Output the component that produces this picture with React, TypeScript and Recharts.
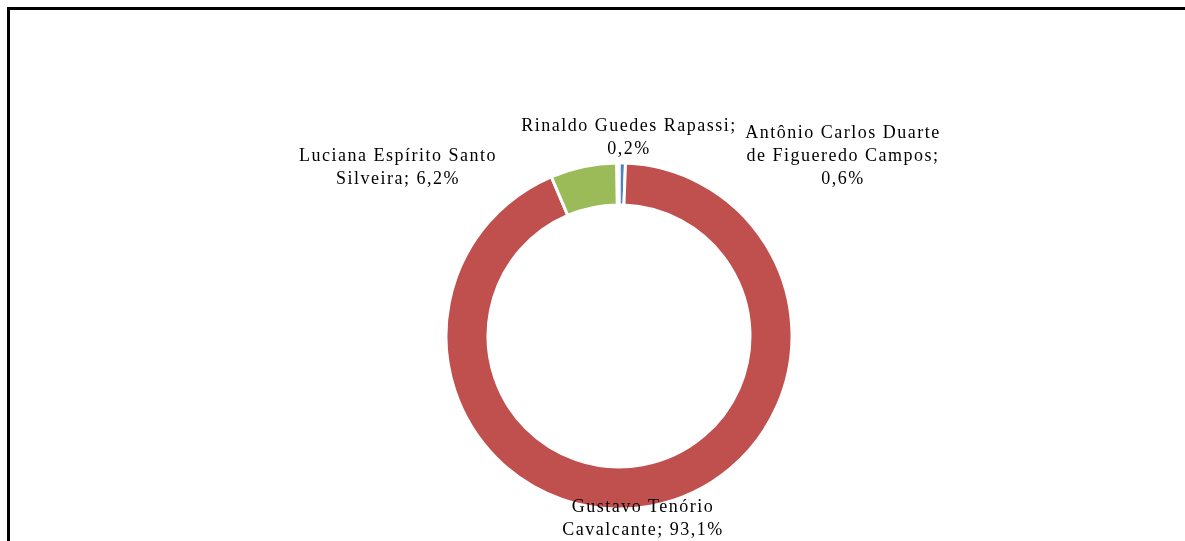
import { PieChart, Pie, Cell } from 'recharts'

// Shares of the total, clockwise from 12 o'clock (same order as Excel drew them)
const names = [
  'Antônio Carlos Duarte de Figueredo Campos',
  'Gustavo Tenório Cavalcante',
  'Luciana Espírito Santo Silveira',
  'Rinaldo Guedes Rapassi',
]
const shares = [0.6, 93.1, 6.2, 0.2]

// how each label wraps (the percentage is appended by formatLabel)
const nameLines = [
  ['Antônio Carlos Duarte', 'de Figueredo Campos;'],
  ['Gustavo Tenório', 'Cavalcante;'],
  ['Luciana Espírito Santo', 'Silveira;'],
  ['Rinaldo Guedes Rapassi;'],
]
const pctOnOwnLine = [true, false, false, true]

const colors = ['#4F81BD', '#C0504D', '#9BBB59', '#8064A2']

// label block centres, relative to the pie centre
const labelOffsets = [
  { dx: 224, dy: -181 },
  { dx: 24, dy: 181 },
  { dx: -221, dy: -170 },
  { dx: 10, dy: -200 },
]

const data = names.map((name, i) => ({ name, value: shares[i] }))

const FONT = '"Liberation Serif", "Times New Roman", serif'
const LINE_HEIGHT = 23

function formatLabel(i: number) {
  const pct = shares[i].toFixed(1).replace('.', ',') + '%'
  const lines = [...nameLines[i]]
  if (pctOnOwnLine[i]) lines.push(pct)
  else lines[lines.length - 1] = lines[lines.length - 1] + ' ' + pct
  return lines
}

function renderLabel(props: any) {
  const { cx, cy, index } = props
  const lines = formatLabel(index)
  const off = labelOffsets[index]
  const x = cx + off.dx
  const y0 = cy + off.dy - ((lines.length - 1) * LINE_HEIGHT) / 2
  return (
    <text
      key={`lbl-${index}`}
      x={x}
      y={y0}
      textAnchor="middle"
      fill="#000"
      fontFamily={FONT}
      fontSize={18}
      letterSpacing={1.5}
    >
      {lines.map((line, j) => (
        <tspan key={j} x={x} y={y0 + j * LINE_HEIGHT} dominantBaseline="central">
          {line}
        </tspan>
      ))}
    </text>
  )
}

export default function App() {
  return (
    <>
      <div
        style={{
          position: 'fixed',
          left: 7,
          top: 7,
          width: 1300,
          height: 700,
          border: '3px solid #000',
          boxSizing: 'border-box',
        }}
      />
      <div style={{ position: 'fixed', left: 0, top: 0 }}>
        <PieChart width={1185} height={541} margin={{ top: 0, right: 0, bottom: 0, left: 0 }}>
          <Pie
            data={data}
            dataKey="value"
            nameKey="name"
            cx={619}
            cy={336}
            innerRadius={131}
            outerRadius={173}
            startAngle={90}
            endAngle={-270}
            stroke="#fff"
            strokeWidth={3}
            label={renderLabel}
            labelLine={false}
            isAnimationActive={false}
          >
            {data.map((d, i) => (
              <Cell key={d.name} fill={colors[i]} />
            ))}
          </Pie>
        </PieChart>
      </div>
    </>
  )
}
